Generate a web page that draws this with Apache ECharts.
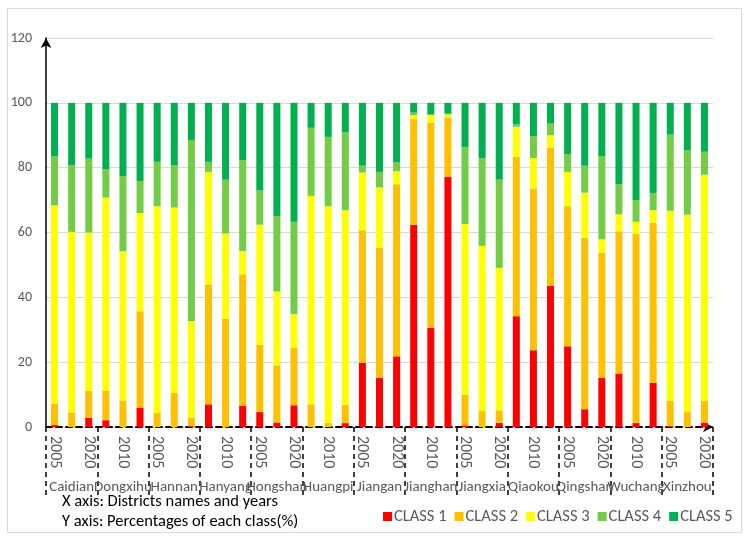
<!DOCTYPE html>
<html>
<head>
<meta charset="utf-8">
<script src="https://cdn.jsdelivr.net/npm/echarts@6/dist/echarts.min.js"></script>
<style>
  html, body { margin: 0; padding: 0; background: #fff; }
  #chart { width: 750px; height: 540px; }
</style>
</head>
<body>
<div id="chart"></div>
<script>
const districts = ['Caidian', 'Dongxihu', 'Hannan', 'Hanyang', 'Hongshan', 'Huangpi', 'Jiangan',
  'Jianghan', 'Jiangxia', 'Qiaokou', 'Qingshan', 'Wuchang', 'Xinzhou'];
const years = ['2005', '2010', '2020'];

// one value per bar: district by district, years 2005 / 2010 / 2020
const class1 = [0.6, 0, 2.9, 2.1, 0, 6.0, 0, 0, 0.2, 7.0, 0, 6.6, 4.6, 1.4, 6.7, 0, 0, 1.2, 19.8, 15.2,
  21.8, 62.4, 30.6, 77.2, 0.5, 0, 1.3, 34.2, 23.7, 43.5, 24.9, 5.5, 15.2, 16.5, 1.2, 13.6, 0.2, 0, 1.3];
const class2 = [6.6, 4.5, 8.2, 9.0, 8.0, 29.7, 4.3, 10.6, 2.7, 37.0, 33.4, 40.5, 20.8, 17.6, 17.7, 7.0, 1.3, 5.7, 40.9, 40.1,
  53.1, 32.6, 63.2, 18.3, 9.5, 4.9, 3.8, 49.1, 49.9, 42.7, 43.2, 52.9, 38.6, 43.9, 58.3, 49.4, 7.8, 4.6, 6.7];
const class3 = [61.2, 55.7, 48.9, 59.7, 46.2, 30.3, 63.8, 57.1, 29.8, 34.7, 26.3, 7.2, 37.0, 22.8, 10.4, 64.3, 66.8, 60.0, 17.8, 18.6,
  4.0, 1.2, 2.4, 0.9, 52.6, 51.0, 44.0, 9.3, 9.4, 3.8, 10.6, 13.9, 4.1, 5.2, 3.8, 3.9, 58.7, 60.9, 69.8];
const class4 = [15.1, 20.6, 22.8, 8.7, 23.2, 9.9, 13.7, 13.1, 55.8, 3.1, 16.6, 28.0, 10.6, 23.3, 28.5, 21.0, 21.4, 24.1, 2.1, 4.8,
  2.7, 0.8, 0.3, 0.3, 23.8, 27.1, 27.2, 0.7, 6.7, 3.6, 5.5, 8.3, 25.6, 9.3, 6.7, 5.3, 23.5, 19.9, 7.1];
const class5 = [16.5, 19.2, 17.2, 20.5, 22.6, 24.1, 18.2, 19.2, 11.5, 18.2, 23.7, 17.7, 27.0, 34.9, 36.7, 7.7, 10.5, 9.0, 19.4, 21.3,
  18.4, 3.0, 3.5, 3.3, 13.6, 17.0, 23.7, 6.7, 10.3, 6.4, 15.8, 19.4, 16.5, 25.1, 30.0, 27.8, 9.8, 14.6, 15.1];

const classNames = ['CLASS 1', 'CLASS 2', 'CLASS 3', 'CLASS 4', 'CLASS 5'];
const classColors = ['#ff0000', '#ffc000', '#ffff00', '#72cc46', '#00b050'];
const classData = [class1, class2, class3, class4, class5];

const yTicks = { min: 0, max: 120, interval: 20 };

// bar categories: "District|Year"
let barCats = [];
districts.forEach(d => {
  years.forEach(y => barCats.push(d + '|' + y));
});

const font = 'Carlito, Lato, "Liberation Sans", sans-serif';
const grey = '#595959';

let myChart = echarts.init(document.getElementById('chart'));

let series = classNames.map((name, i) => ({
  name: name,
  type: 'bar',
  stack: 'total',
  barWidth: 7,
  data: classData[i],
  itemStyle: { color: classColors[i] }
}));

let option = {
  animation: false,
  textStyle: { fontFamily: font },
  title: {
    text: 'X axis: Districts names and years\nY axis: Percentages of each class(%)',
    left: 62,
    top: 492,
    padding: 0,
    textStyle: { fontFamily: font, fontSize: 16.5, fontWeight: 'normal', color: '#000', lineHeight: 20 }
  },
  legend: {
    left: 383,
    top: 508,
    padding: 0,
    icon: 'rect',
    itemWidth: 9,
    itemHeight: 9,
    itemGap: 8,
    textStyle: { fontFamily: font, fontSize: 16.5, color: grey, padding: [0, 0, 0, -3] },
    data: classNames
  },
  grid: { left: 46, right: 37, top: 38, bottom: 113 },
  graphic: [{
    type: 'rect',
    shape: { x: 7.5, y: 8.5, width: 734, height: 524 },
    style: { fill: 'none', stroke: '#d9d9d9', lineWidth: 1 },
    silent: true
  }],
  xAxis: [
    {
      type: 'category',
      data: barCats,
      position: 'bottom',
      axisLine: {
        show: true,
        symbol: ['none', 'arrow'],
        symbolSize: [8, 10],
        lineStyle: { color: '#000', width: 2, type: [6, 4] }
      },
      axisTick: { show: false },
      axisLabel: {
        interval: 1,
        rotate: -90,
        margin: 9,
        fontFamily: font,
        fontSize: 16,
        color: grey,
        formatter: v => v.split('|')[1]
      },
      splitLine: { show: false }
    },
    {
      type: 'category',
      data: districts,
      position: 'bottom',
      axisLine: { show: false },
      axisTick: {
        show: true,
        length: 70,
        lineStyle: { color: '#000', width: 1.5, type: [5, 4] }
      },
      axisLabel: {
        interval: 0,
        margin: 53,
        fontFamily: font,
        fontSize: 15,
        color: grey
      },
      splitLine: { show: false }
    }
  ],
  yAxis: {
    type: 'value',
    min: yTicks.min,
    max: yTicks.max,
    interval: yTicks.interval,
    axisLine: {
      show: true,
      symbol: ['none', 'arrow'],
      symbolSize: [8, 10],
      lineStyle: { color: '#000', width: 1.5 }
    },
    axisTick: { show: false },
    axisLabel: { margin: 14, fontFamily: font, fontSize: 14, color: grey },
    splitLine: { lineStyle: { color: '#d9d9d9', width: 1 } }
  },
  series: series
};

myChart.setOption(option);
</script>
</body>
</html>
